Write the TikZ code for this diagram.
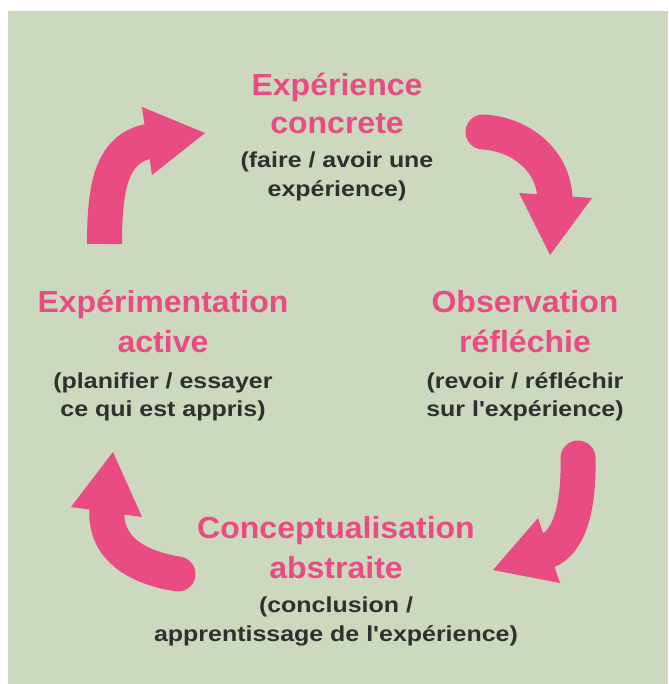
\documentclass[tikz,border=0pt]{standalone}
\usepackage{fontspec}
\setmainfont{Liberation Sans}
\newfontfamily\headfont[FakeStretch=1.05]{Liberation Sans}
\newfontfamily\bodyfont[FakeStretch=1.15,Ligatures=ResetAll]{Liberation Sans}
\definecolor{cyclepink}{HTML}{E84C82}
\definecolor{paper}{HTML}{CCD9BF}
\definecolor{ink}{HTML}{303030}
\tikzset{
  head/.style={anchor=base, inner sep=0pt, text=cyclepink,
    font={\headfont\bfseries\fontsize{30.5}{36}\selectfont}},
  desc/.style={anchor=base, inner sep=0pt, text=ink,
    font={\bodyfont\bfseries\fontsize{21.7}{26}\selectfont}},
  shaft/.style={draw=cyclepink, line width=35pt},
  tiphead/.style={fill=cyclepink}
}
\begin{document}
\begin{tikzpicture}[x=1pt,y=-1pt]
\useasboundingbox (0,0) rectangle (668,684);
\fill[paper] (8,11) rectangle (668,684);

% Stage 1: concrete experience
\node[head] (ec1) at (337,96)  {Expérience};
\node[head] (ec2) at (337,134) {concrete};
\node[desc] (ec3) at (337,168) {(faire / avoir une};
\node[desc] (ec4) at (337,197) {expérience)};

% Stage 2: reflective observation
\node[head] (or1) at (525,312) {Observation};
\node[head] (or2) at (525,352) {réfléchie};
\node[desc] (or3) at (525,388) {(revoir / réfléchir};
\node[desc] (or4) at (525,416) {sur l'expérience)};

% Stage 3: abstract conceptualisation
\node[head] (ca1) at (336,538) {Conceptualisation};
\node[head] (ca2) at (336,578) {abstraite};
\node[desc] (ca3) at (336,612) {(conclusion /};
\node[desc] (ca4) at (336,641) {apprentissage de l'expérience)};

% Stage 4: active experimentation
\node[head] (ea1) at (163,312) {Expérimentation};
\node[head] (ea2) at (163,352) {active};
\node[desc] (ea3) at (163,388) {(planifier / essayer};
\node[desc] (ea4) at (163,416) {ce qui est appris)};

% Cycle arrows: thick curved shaft plus triangular head
% from stage 4 up to stage 1
\draw[shaft, line cap=butt] (104.5,244) .. controls (104.5,185) and (112,148) .. (150,141);
\fill[tiphead] (142,107) -- (205,133) -- (152,175) -- cycle;
% from stage 1 down to stage 2
\draw[shaft, line cap=round] (483,132) .. controls (520,134) and (554,160) .. (555,199);
\fill[tiphead] (519,193) -- (592,198) -- (550,255) -- cycle;
% from stage 2 down to stage 3
\draw[shaft, line cap=round] (578,458) .. controls (579,500) and (572,542) .. (546,551.5);
\fill[tiphead] (538,518) -- (493,570) -- (560,583) -- cycle;
% from stage 3 up to stage 4
\draw[shaft, line cap=round] (178,574) .. controls (140,568) and (104,550) .. (107,509);
\fill[tiphead] (71,507) -- (113,452) -- (142,517) -- cycle;
\end{tikzpicture}
\end{document}
